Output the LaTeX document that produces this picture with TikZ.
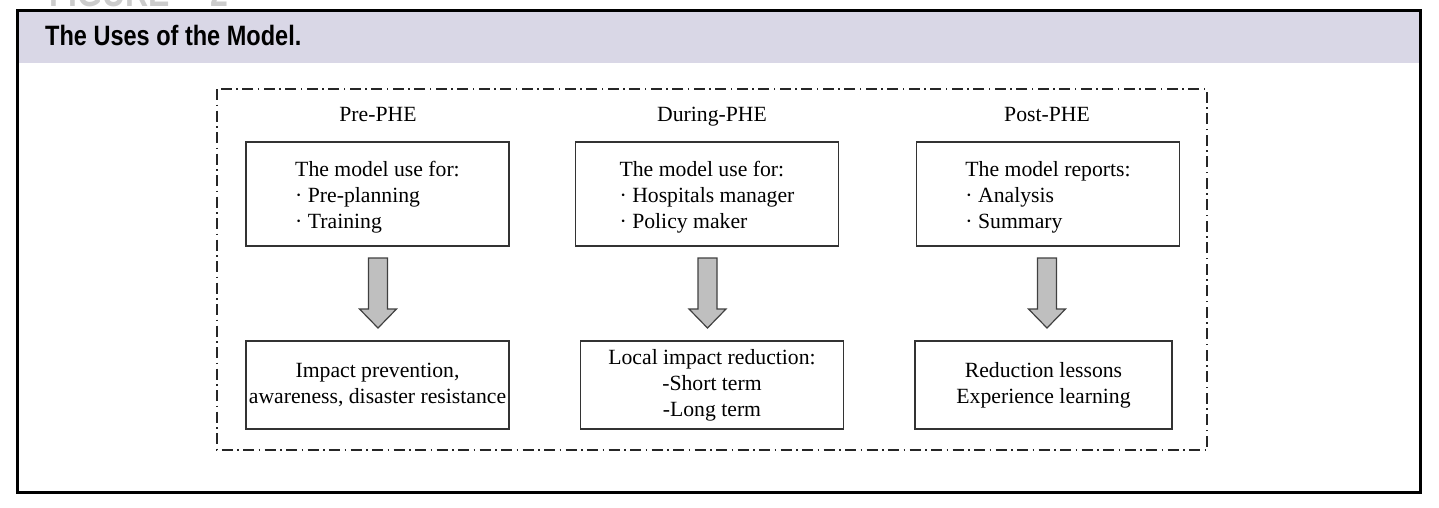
\documentclass[tikz,border=0pt]{standalone}
\usepackage{fontspec}
\setmainfont{Liberation Serif}
\newfontfamily\titlefont[FakeStretch=0.84]{Liberation Sans}
\newfontfamily\labelfont[FakeStretch=0.8]{Liberation Sans}
\usetikzlibrary{calc}
\definecolor{band}{HTML}{D9D7E6}
\definecolor{arrowfill}{HTML}{BFBFBF}
\definecolor{boxline}{HTML}{333333}
\tikzset{
  stagebox/.style={draw=boxline, line width=1.4pt, minimum width=263pt, minimum height=104pt, inner sep=0pt},
  boxtext/.style={align=left, inner sep=0pt, font=\fontsize{21.7}{26}\selectfont},
  resultbox/.style={draw=boxline, line width=1.4pt, minimum width=263pt, minimum height=88pt, inner sep=0pt, align=center, font=\fontsize{21.7}{26}\selectfont},
  heading/.style={font=\fontsize{21.7}{26}\selectfont, inner sep=0pt, anchor=base},
  blockarrow/.style={draw=black!75, line width=1.2pt, fill=arrowfill, line join=miter},
  dashdot/.style={draw=black!85, line width=1.3pt, dash pattern=on 11pt off 4.5pt on 1.5pt off 4.5pt}
}
\begin{document}
\begin{tikzpicture}[x=1pt,y=-1pt]
\useasboundingbox (0,0) rectangle (1439,507);
% faint cut-off label above the frame (cut by the page edge, as in the reference)
\node[anchor=base west, inner sep=0pt, text=black!20, font=\labelfont\bfseries\fontsize{40}{40}\selectfont] (figlabel) at (49,6) {FIGURE\hspace{40pt}2};
% frame and header band
\fill[band] (17,10) rectangle (1420,63);
\draw[line width=3pt] (17,10) rectangle (1420,492);
\node[anchor=base west, inner sep=0pt, font=\titlefont\bfseries\fontsize{28}{28}\selectfont] (title) at (45,45) {The Uses of the Model.};
% dash-dot enclosure
\draw[dashdot] (217,89) rectangle (1207,450);
% headings
\node[heading] (h1) at (378,121.5) {Pre-PHE};
\node[heading] (h2) at (712,121.5) {During-PHE};
\node[heading] (h3) at (1047,121.5) {Post-PHE};
% top boxes
\node[stagebox] (t1) at (377.5,194) {};
\node[boxtext] (t1txt) at ($(t1.center)+(0,3)$) {The model use for:\\·~Pre-planning\\·~Training};
\node[stagebox] (t2) at (707,194) {};
\node[boxtext] (t2txt) at ($(t2.center)+(0,3)$) {The model use for:\\·~Hospitals manager\\·~Policy maker};
\node[stagebox] (t3) at (1048,194) {};
\node[boxtext] (t3txt) at ($(t3.center)+(0,3)$) {The model reports:\\·~Analysis\\·~Summary};
% bottom boxes
\node[resultbox] (b1) at (377.5,385) {Impact prevention,\\awareness, disaster resistance};
\node[resultbox] (b2) at (712,385) {Local impact reduction:\\-Short term\\-Long term};
\node[resultbox, minimum width=257pt] (b3) at (1043.5,385) {Reduction lessons\\Experience learning};
% block arrows
\foreach \t/\b/\x in {t1/b1/378, t2/b2/707.5, t3/b3/1047}{
  \coordinate (a\t) at (\x,258);
  \draw[blockarrow] (a\t) ++(-9.5,0) -- ++(19,0) -- ++(0,51) -- ++(9,0) -- ++(-18.5,19) -- ++(-18.5,-19) -- ++(9,0) -- cycle;
}
\end{tikzpicture}
\end{document}
